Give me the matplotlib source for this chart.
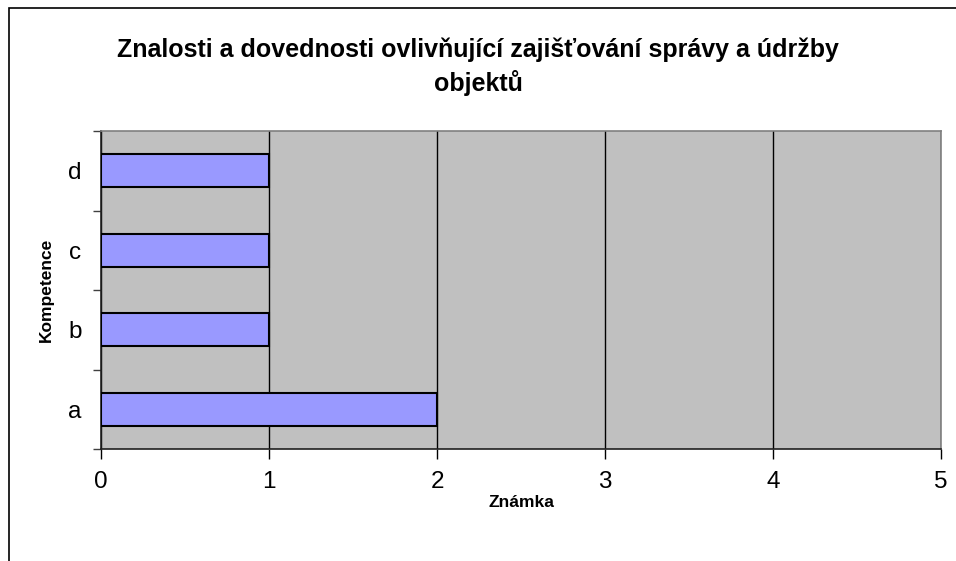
import matplotlib.pyplot as plt
from matplotlib.patches import Rectangle

plt.rcParams['font.family'] = ['Liberation Sans', 'DejaVu Sans']

# data
categories = ['a', 'b', 'c', 'd']
values = [2, 1, 1, 1]
x_ticks = [0, 1, 2, 3, 4, 5]

W, H = 956, 561
fig = plt.figure(figsize=(W / 100, H / 100), dpi=100)

# outer chart frame
fig.patches.append(Rectangle((9 / W, -0.1), 1.2, 1 - 8 / H + 0.1, transform=fig.transFigure,
                             fill=False, edgecolor='black', linewidth=1.2))

ax = fig.add_axes([101 / W, 1 - 449 / H, 840 / W, 318 / H])
ax.set_facecolor('#C0C0C0')

pos = range(len(categories))
ax.barh(pos, values, height=0.42, color='#9999FF', edgecolor='black', linewidth=1.5, zorder=3)

ax.set_xlim(0, 5)
ax.set_ylim(-0.5, len(categories) - 0.5)
ax.set_xticks(x_ticks)
ax.set_xticklabels([str(t) for t in x_ticks])
ax.xaxis.grid(True, color='black', linewidth=1)
ax.set_axisbelow(True)

ax.set_yticks(list(pos))
ax.set_yticklabels(categories)
ax.set_yticks([p - 0.5 for p in range(len(categories) + 1)], minor=True)
ax.tick_params(axis='y', which='major', length=0, pad=14, labelsize=17.5)
ax.tick_params(axis='y', which='minor', length=6, width=1, color='#404040')
ax.tick_params(axis='x', length=7, width=1, pad=9, labelsize=17.5)

for s in ['left', 'bottom']:
    ax.spines[s].set_color('#202020')
    ax.spines[s].set_linewidth(1.2)
for s in ['top', 'right']:
    ax.spines[s].set_color('#808080')
    ax.spines[s].set_linewidth(1.2)

ax.set_xlabel('Známka', fontsize=12.5, fontweight='bold', labelpad=1)
ax.set_ylabel('Kompetence', fontsize=12.5, fontweight='bold', labelpad=10)

fig.text(478 / W, 1 - 67 / H, 'Znalosti a dovednosti ovlivňující zajišťování správy a údržby\nobjektů',
         ha='center', va='center', fontsize=18, fontweight='bold', linespacing=1.4)

fig.savefig('out.png', dpi=100)
